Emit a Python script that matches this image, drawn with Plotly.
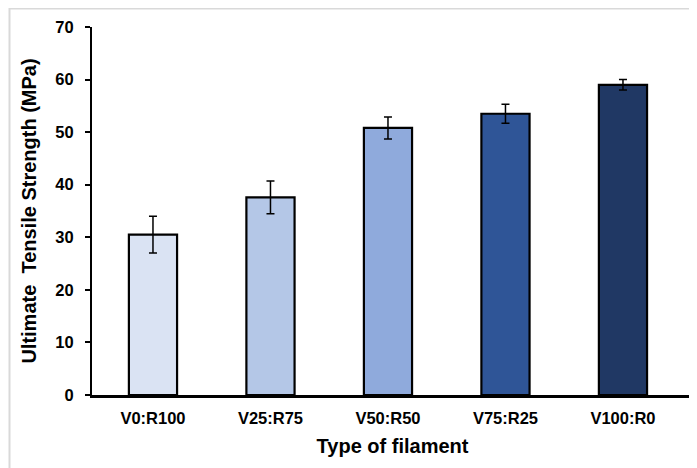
import plotly.graph_objects as go

categories = ["V0:R100", "V25:R75", "V50:R50", "V75:R25", "V100:R0"]
strength = [30.5, 37.6, 50.8, 53.5, 59.0]
error = [3.5, 3.1, 2.1, 1.8, 1.0]
colors = ["#DAE3F3", "#B4C7E7", "#8FAADC", "#2F5597", "#203864"]
y_ticks = [0, 10, 20, 30, 40, 50, 60, 70]

font_family = "Liberation Sans, Arial, sans-serif"

# page has an 8px body margin; figure coordinates are offset by it
W, H = 689, 460
L, T, R, B = 84, 19, 4, 73
pw, ph = W - L - R, H - T - B

fig = go.Figure()
fig.add_trace(go.Bar(
    x=list(range(len(categories))),
    y=strength,
    width=0.41,
    marker=dict(color=colors, line=dict(color="black", width=2.2)),
    error_y=dict(type="data", array=error, visible=True,
                 color="black", thickness=1.5, width=4),
    showlegend=False,
))

fig.update_layout(
    width=W, height=H,
    margin=dict(l=L, r=R, t=T, b=B, autoexpand=False),
    paper_bgcolor="white", plot_bgcolor="white",
    font=dict(family=font_family, color="black"),
    shapes=[
        dict(type="line", xref="paper", yref="paper",
             x0=(1 - L) / pw, x1=(W - L) / pw,
             y0=(ph + T - 0.5) / ph, y1=(ph + T - 0.5) / ph,
             line=dict(color="#D9D9D9", width=2)),
        dict(type="line", xref="paper", yref="paper",
             x0=(1.5 - L) / pw, x1=(1.5 - L) / pw,
             y0=(ph + T) / ph, y1=-B / ph,
             line=dict(color="#D9D9D9", width=2)),
    ],
)

fig.update_xaxes(
    tickmode="array",
    tickvals=list(range(len(categories))),
    ticktext=categories,
    range=[-0.519, 4.596],
    showline=True, linecolor="black", linewidth=2.5,
    ticks="", showgrid=False, zeroline=False,
    tickfont=dict(size=16.5, family=font_family, weight="bold"),
    ticklabelstandoff=6,
    title=dict(text="<b>Type of filament</b>", font=dict(size=20, family=font_family), standoff=14),
)

fig.update_yaxes(
    range=[0, 70],
    tickmode="array",
    tickvals=y_ticks,
    showline=True, linecolor="black", linewidth=2,
    ticks="outside", ticklen=5, tickwidth=2, tickcolor="black",
    showgrid=False, zeroline=False,
    tickfont=dict(size=16.5, family=font_family, weight="bold"),
    ticklabelstandoff=8,
    title=dict(text="<b>Ultimate  Tensile Strength (MPa)</b>", font=dict(size=20, family=font_family), standoff=13),
)

fig.write_html("out.html")
